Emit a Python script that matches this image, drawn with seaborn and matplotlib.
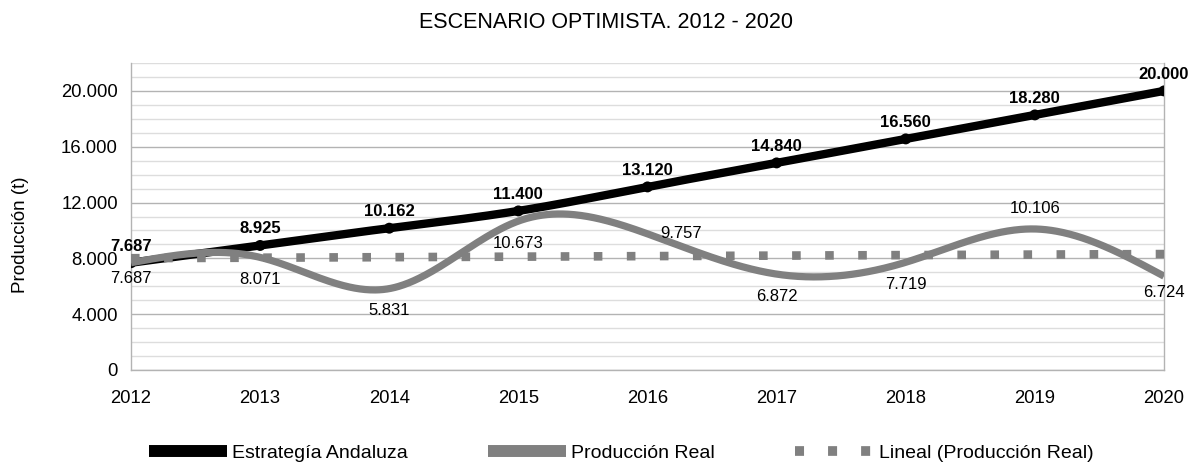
import numpy as np
import pandas as pd
import matplotlib
matplotlib.use("Agg")
import matplotlib.pyplot as plt
from matplotlib.lines import Line2D
from matplotlib.ticker import MultipleLocator, FuncFormatter
import seaborn as sns

# ---- data ----
years = [2012, 2013, 2014, 2015, 2016, 2017, 2018, 2019, 2020]
estrategia = [7687, 8925, 10162, 11400, 13120, 14840, 16560, 18280, 20000]
produccion = [7687, 8071, 5831, 10673, 9757, 6872, 7719, 10106, 6724]
title = "ESCENARIO OPTIMISTA. 2012 - 2020"
ylabel = "Producción (t)"
legend_labels = ["Estrategía Andaluza", "Producción Real", "Lineal (Producción Real)"]

# label placement for the "Producción Real" series (offset in points)
prod_label_offsets = [(0, -11), (0, -16), (0, -16), (0, -16), (24, 0),
                      (0, -16), (0, -16), (0, 15), (0, -12)]

BLACK = "#000000"
GRAY = "#808080"

sns.set_theme(style="white")
plt.rcParams["font.family"] = ["Liberation Sans", "DejaVu Sans"]
plt.rcParams["lines.scale_dashes"] = False
plt.rcParams["text.color"] = "#000000"


def fmt(v):
    return f"{v:,.0f}".replace(",", ".")


def natural_spline(x, y, xs):
    x = np.asarray(x, float)
    y = np.asarray(y, float)
    n = len(x)
    h = np.diff(x)
    A = np.zeros((n, n))
    b = np.zeros(n)
    A[0, 0] = 1
    A[-1, -1] = 1
    for i in range(1, n - 1):
        A[i, i - 1] = h[i - 1]
        A[i, i] = 2 * (h[i - 1] + h[i])
        A[i, i + 1] = h[i]
        b[i] = 3 * ((y[i + 1] - y[i]) / h[i] - (y[i] - y[i - 1]) / h[i - 1])
    c = np.linalg.solve(A, b)
    bb = (y[1:] - y[:-1]) / h - h * (2 * c[:-1] + c[1:]) / 3
    d = (c[1:] - c[:-1]) / (3 * h)
    idx = np.clip(np.searchsorted(x, xs, side="right") - 1, 0, n - 2)
    dx = xs - x[idx]
    return y[idx] + bb[idx] * dx + c[idx] * dx ** 2 + d[idx] * dx ** 3


xs = np.linspace(years[0], years[-1], 800)
smooth = pd.DataFrame({
    "x": np.concatenate([xs, xs]),
    "y": np.concatenate([natural_spline(years, estrategia, xs),
                         natural_spline(years, produccion, xs)]),
    "serie": [legend_labels[0]] * len(xs) + [legend_labels[1]] * len(xs),
})

# linear trend of Producción Real
coef = np.polyfit(years, produccion, 1)
trend = pd.DataFrame({"x": [years[0], years[-1]],
                      "y": np.polyval(coef, [years[0], years[-1]])})

fig = plt.figure(figsize=(11.98, 4.63), dpi=100)
W, H = 1198, 463
ax = fig.add_axes([131 / W, 1 - 370 / H, (1164 - 131) / W, (370 - 63) / H])

sns.lineplot(data=smooth[smooth.serie == legend_labels[0]], x="x", y="y",
             color=BLACK, lw=6, ax=ax, zorder=3, legend=False,
             solid_capstyle="butt")
sns.scatterplot(x=years, y=estrategia, color=BLACK, s=62, ax=ax, zorder=3,
                edgecolor="none", legend=False)
sns.lineplot(data=trend, x="x", y="y", color=GRAY, lw=6.2, ax=ax,
             zorder=4, legend=False)
ax.lines[-1].set_dashes((6.2, 17.6))
sns.lineplot(data=smooth[smooth.serie == legend_labels[1]], x="x", y="y",
             color=GRAY, lw=5.2, ax=ax, zorder=5, legend=False,
             solid_capstyle="butt")

# axes styling
ax.set_xlim(years[0], years[-1])
ax.set_ylim(0, 22000)
ax.set_xticks(years)
ax.set_xticklabels([str(y) for y in years])
ax.yaxis.set_major_locator(MultipleLocator(4000))
ax.yaxis.set_minor_locator(MultipleLocator(1000))
ax.yaxis.set_major_formatter(FuncFormatter(lambda v, p: fmt(v)))
ax.grid(axis="y", which="major", color="#b3b3b3", lw=1.0, zorder=0)
ax.grid(axis="y", which="minor", color="#dddddd", lw=1.0, zorder=0)
ax.grid(axis="x", which="both", visible=False)
ax.set_axisbelow(True)
ax.set_xlabel("")
ax.set_ylabel("")
for s in ["left", "right", "bottom"]:
    ax.spines[s].set_visible(True)
    ax.spines[s].set_color("#b3b3b3")
    ax.spines[s].set_linewidth(1.0)
ax.spines["top"].set_visible(False)
ax.tick_params(axis="both", which="major", length=4.5, width=1,
               color="#b3b3b3", labelsize=13.3, labelcolor="#000000")
ax.tick_params(axis="y", which="minor", length=0)
ax.tick_params(axis="x", pad=10)
ax.tick_params(axis="y", pad=5)

# data labels
for x, v in zip(years, estrategia):
    ax.annotate(fmt(v), (x, v), xytext=(0, 12), textcoords="offset points",
                ha="center", va="center", fontsize=12, fontweight="bold",
                color=BLACK, zorder=6, annotation_clip=False)
for (x, v), off in zip(zip(years, produccion), prod_label_offsets):
    ax.annotate(fmt(v), (x, v), xytext=off, textcoords="offset points",
                ha="center", va="center", fontsize=12, color=BLACK,
                zorder=6, annotation_clip=False)

fig.text(606 / W, 1 - 22 / H, title, ha="center", va="center", fontsize=15.5,
         color=BLACK)
fig.text(21 / W, 1 - 235 / H, ylabel, ha="center", va="center",
         rotation=90, fontsize=13.5, color=BLACK)

handles = [
    Line2D([0], [0], color=BLACK, lw=8.6, solid_capstyle="butt"),
    Line2D([0], [0], color=GRAY, lw=8.6, solid_capstyle="butt"),
    Line2D([0], [0], color=GRAY, lw=7, dashes=(6.5, 17.3)),
]
leg = fig.legend(handles, legend_labels, loc="center", ncol=3, frameon=False,
                 bbox_to_anchor=(621 / W, 1 - 453 / H), fontsize=14,
                 handlelength=4.0, handletextpad=0.3, columnspacing=4.1,
                 borderaxespad=0, borderpad=0)
for t in leg.get_texts():
    t.set_color(BLACK)

fig.savefig("out.png", dpi=100)
